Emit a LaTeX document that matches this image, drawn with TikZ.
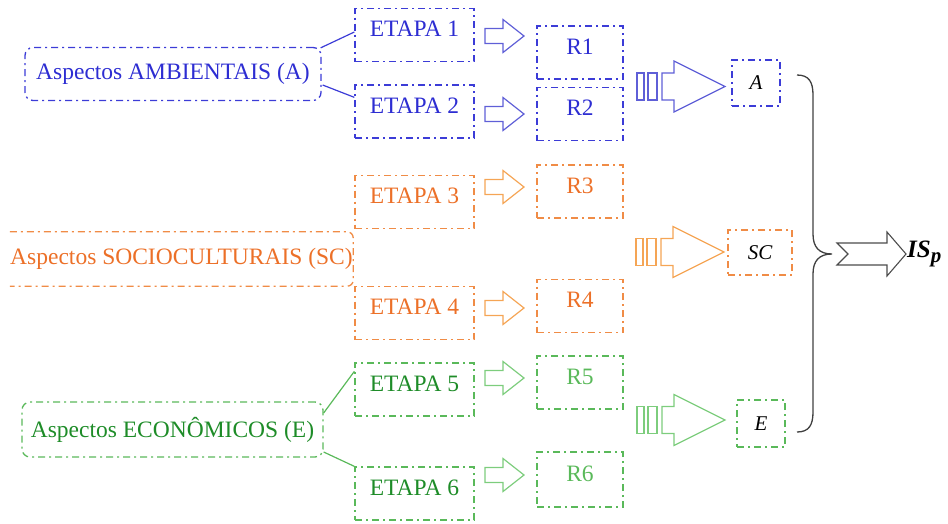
\documentclass[tikz,border=0pt]{standalone}
\usepackage{fontspec}
\setmainfont{Liberation Serif}
\usetikzlibrary{calc}
\definecolor{bT}{RGB}{45,45,210}
\definecolor{bL}{RGB}{60,60,215}
\definecolor{bArr}{RGB}{95,95,215}
\definecolor{oT}{RGB}{236,112,40}
\definecolor{oL}{RGB}{240,140,70}
\definecolor{oArr}{RGB}{245,165,85}
\definecolor{gT}{RGB}{30,140,40}
\definecolor{gL}{RGB}{90,185,90}
\definecolor{gArr}{RGB}{125,205,125}
\tikzset{
  dd/.style={line width=1.3pt, dash pattern=on 7pt off 4pt on 2pt off 4pt},
  txt/.style={font=\fontsize{23.5}{27}\selectfont},
  stepbox/.style={dd, txt, minimum width=119pt, minimum height=53pt, text height=15pt, text depth=12pt, inner sep=0pt},
  resbox/.style={dd, txt, minimum width=86pt, minimum height=53pt, text height=15pt, text depth=12pt, inner sep=0pt},
  aspbox/.style={dd, txt, rounded corners=8pt, minimum height=53pt, inner sep=2pt},
  outbox/.style={dd, font=\fontsize{21}{25}\selectfont\itshape, text=black, minimum height=46pt, inner sep=0pt},
  smallarr/.pic={\draw[pic actions, line width=1.2pt, line join=miter] (0,-7.5)--(18,-7.5)--(18,-16.5)--(39,0)--(18,16.5)--(18,7.5)--(0,7.5)--cycle;},
  bigarr/.pic={\draw[pic actions, line width=1.2pt] (0,-13.5) rectangle (7,13.5);
               \draw[pic actions, line width=1.2pt] (11,-13.5) rectangle (20,13.5);
               \draw[pic actions, line width=1.2pt, line join=miter] (25,-13.5)--(37,-13.5)--(37,-25.5)--(88,0)--(37,25.5)--(37,13.5)--(25,13.5)--cycle;},
}
\begin{document}
\begin{tikzpicture}[x=1pt,y=-1pt]
\useasboundingbox (0,0) rectangle (948,523);
% ---------- blue ----------
\node[aspbox, draw=bL, text=bT, minimum width=296pt] (aspA) at (173,74) {Aspectos AMBIENTAIS (A)};
\node[stepbox, draw=bL, text=bT] (et1) at (414.5,35) {ETAPA 1};
\node[stepbox, draw=bL, text=bT] (et2) at (414.5,111.5) {ETAPA 2};
\node[resbox, draw=bL, text=bT] (r1) at (580,52.5) {R1};
\node[resbox, draw=bL, text=bT] (r2) at (580,114) {R2};
\node[outbox, draw=bL, minimum width=48pt] (oA) at (756,83) {A};
\draw[bL, line width=1.2pt] ($(aspA.north east)+(-1,1)$) -- ($(et1.west)+(0,-3)$);
\draw[bL, line width=1.2pt] ($(aspA.east)+(1,11)$) -- ($(et2.north west)+(0,13)$);
\pic[draw=bArr] at (485,36) {smallarr};
\pic[draw=bArr] at (485,114) {smallarr};
\pic[draw=bArr] at (637,86.5) {bigarr};
% ---------- orange ----------
\node[txt, text=oT, minimum width=343pt, minimum height=54pt, inner sep=0pt] (aspSC) at (181.5,259) {Aspectos SOCIOCULTURAIS (SC)};
\draw[dd, oL, rounded corners=6pt] (aspSC.north west) -- (aspSC.north east) -- (aspSC.south east) -- (aspSC.south west);
\node[stepbox, draw=oL, text=oT] (et3) at (414.5,202) {ETAPA 3};
\node[stepbox, draw=oL, text=oT] (et4) at (414.5,313) {ETAPA 4};
\node[resbox, draw=oL, text=oT] (r3) at (580,191.5) {R3};
\node[resbox, draw=oL, text=oT] (r4) at (580,306) {R4};
\node[outbox, draw=oL, minimum width=64pt, minimum height=45pt] (oSC) at (760,252.5) {SC};
\pic[draw=oArr] at (485,187) {smallarr};
\pic[draw=oArr] at (485,308) {smallarr};
\pic[draw=oArr] at (636,252) {bigarr};
% ---------- green ----------
\node[aspbox, draw=gL, text=gT, minimum width=301pt, minimum height=55pt] (aspE) at (172.5,429.5) {Aspectos ECONÔMICOS (E)};
\node[stepbox, draw=gL, text=gT] (et5) at (414.5,389.5) {ETAPA 5};
\node[stepbox, draw=gL, text=gT] (et6) at (414.5,493.5) {ETAPA 6};
\node[resbox, draw=gL, text=gL] (r5) at (580,382.5) {R5};
\node[resbox, draw=gL, text=gL, minimum height=55pt] (r6) at (580,479.5) {R6};
\node[outbox, draw=gL, minimum width=48pt, minimum height=47pt] (oE) at (761,423.5) {E};
\draw[gL, line width=1.2pt] ($(aspE.east)+(0,-16.5)$) -- ($(et5.north west)+(0,9)$);
\draw[gL, line width=1.2pt] ($(aspE.east)+(0,22.5)$) -- (et6.north west);
\pic[draw=gArr] at (485,378) {smallarr};
\pic[draw=gArr] at (485,475) {smallarr};
\pic[draw=gArr] at (637,420) {bigarr};
% ---------- brace and result ----------
\coordinate (bt) at (797,75);
\coordinate (bm) at (832,254);
\coordinate (bb) at (797,432);
\draw[black!75, line width=1.3pt] (bt) .. controls (809,75) and (813,82) .. (813,95) -- (813,234)
  .. controls (813,247) and (819,254) .. (bm)
  .. controls (819,254) and (813,261) .. (813,274) -- (813,412)
  .. controls (813,425) and (809,432) .. (bb);
\draw[black!70, line width=1.1pt, line join=miter] (837,243) -- (887,243) -- (887,232) -- (906,254) -- (887,276) -- (887,265) -- (837,265) -- (848,254) -- cycle;
\node[anchor=west, inner sep=0pt, font=\fontsize{25}{28}\selectfont\bfseries\itshape] (isp) at (907,254) {IS\raisebox{-5pt}{\fontsize{21}{24}\selectfont p}};
\end{tikzpicture}
\end{document}
